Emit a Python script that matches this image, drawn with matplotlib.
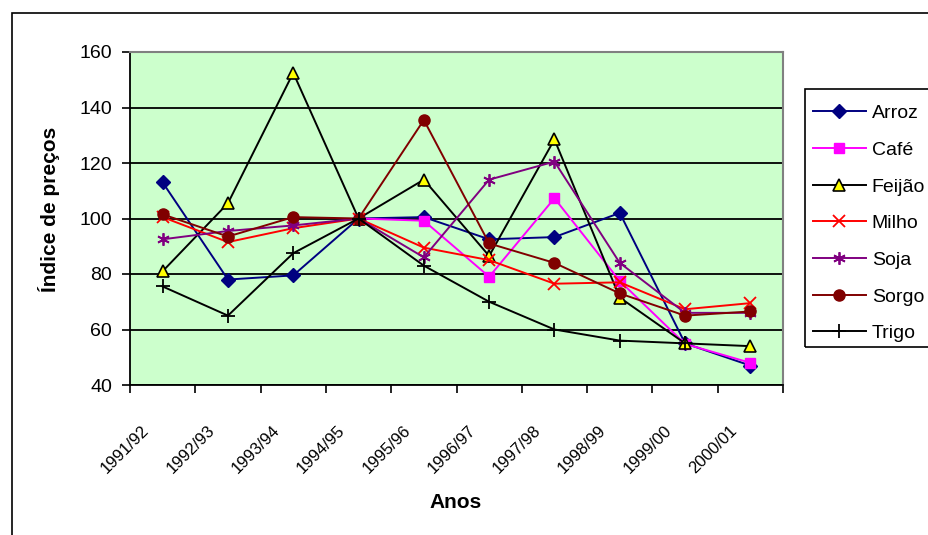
import numpy as np
import matplotlib
matplotlib.use('Agg')
import matplotlib.pyplot as plt
from matplotlib.patches import Rectangle
from matplotlib.transforms import ScaledTranslation

plt.rcParams['font.family'] = ['Liberation Sans', 'DejaVu Sans']

# safras
anos = ['1991/92', '1992/93', '1993/94', '1994/95', '1995/96',
        '1996/97', '1997/98', '1998/99', '1999/00', '2000/01']

# indices de precos (1994/95 = 100), None = sem dado
arroz = [113, 78, 79.5, 100, 100.5, 92.5, 93.3, 102, 55, 47]
cafe = [None, None, None, 100, 99.2, 79, 107.3, 77.5, 54.8, 48]
feijao = [81, 105.5, 152.5, 100, 114, 86.5, 128.5, 71.5, 55, 54]
milho = [100.5, 91.5, 96.5, 100, 89.5, 85, 76.5, 77, 67.3, 69.5]
soja = [92.5, 95.5, 97.5, 100, 86, 114, 120.5, 84, 66, 66]
sorgo = [101.5, 93.5, 100.5, 100, 135.5, 91, 84, 73, 65, 66.5]
trigo = [75.5, 65, 87.5, 100, 83, 70, 60, 56, 55, None]

series = [
    ('Arroz', arroz, dict(color='#000080', marker='D', ms=7, mfc='#000080', mec='#000080')),
    ('Café', cafe, dict(color='#FF00FF', marker='s', ms=7.5, mfc='#FF00FF', mec='#FF00FF')),
    ('Feijão', feijao, dict(color='black', marker='^', ms=9, mfc='#FFFF00', mec='black', mew=1.2)),
    ('Milho', milho, dict(color='#FF0000', marker='x', ms=8, mec='#FF0000', mew=1.3)),
    ('Soja', soja, dict(color='#800080', marker=(6, 2, 0), ms=9, mec='#800080', mew=1.3)),
    ('Sorgo', sorgo, dict(color='#800000', marker='o', ms=8, mfc='#800000', mec='#800000')),
    ('Trigo', trigo, dict(color='black', marker='+', ms=10, mec='black', mew=1.3)),
]

W, H = 929, 535
fig = plt.figure(figsize=(W / 100, H / 100), dpi=100)
fig.patch.set_facecolor('white')

# moldura externa do grafico
fig.add_artist(Rectangle((12 / W, -0.1), 1.2, 1 - 13 / H + 0.1, transform=fig.transFigure,
                         fill=False, edgecolor='black', lw=1.2))

ax = fig.add_axes([130 / W, 1 - 385 / H, (783 - 130) / W, (385 - 52) / H])
ax.set_facecolor('#CCFFCC')

x = np.arange(len(anos)) + 0.5
for nome, vals, st in series:
    y = np.array([np.nan if v is None else v for v in vals], dtype=float)
    ax.plot(x, y, lw=1.4, label=nome, **st)

ax.set_xlim(0, len(anos))
ax.set_ylim(40, 160)
ax.set_yticks(np.arange(40, 161, 20))
ax.grid(axis='y', color='black', lw=1.3)
ax.set_axisbelow(True)

for s in ['top', 'right']:
    ax.spines[s].set_color('#808080')
    ax.spines[s].set_linewidth(1.5)
for s in ['left', 'bottom']:
    ax.spines[s].set_color('black')
    ax.spines[s].set_linewidth(1.3)

ax.tick_params(axis='y', direction='out', length=5.8, width=1.2, pad=7, labelsize=14)
ax.set_xticks(np.arange(len(anos) + 1), minor=True)
ax.tick_params(axis='x', which='minor', direction='out', length=5.8, width=1.2)
ax.set_xticks(x)
ax.set_xticklabels(anos, fontsize=12)
ax.tick_params(axis='x', which='major', length=0, pad=31)
off = ScaledTranslation(-0.16, 0, fig.dpi_scale_trans)
for lab in ax.get_xticklabels():
    lab.set_rotation(45)
    lab.set_ha('right')
    lab.set_va('center')
    lab.set_rotation_mode('anchor')
    lab.set_transform(lab.get_transform() + off)

fig.text(49 / W, 1 - 209 / H, 'Índice de preços', rotation=90, ha='center', va='center',
         fontsize=15, fontweight='bold')
fig.text(456 / W, 1 - 503 / H, 'Anos', ha='center', va='center',
         fontsize=15, fontweight='bold')

# caixa da legenda (passa da borda direita)
fig.add_artist(Rectangle((805 / W, 1 - 347 / H), 0.3, (347 - 89) / H, transform=fig.transFigure,
                         fill=False, edgecolor='black', lw=1.2))
leg = fig.legend(loc='upper left', bbox_to_anchor=(797 / W, 1 - 89 / H), borderaxespad=0,
                 fontsize=14, frameon=False,
                 handlelength=2.75, handletextpad=0.3, labelspacing=0.98, borderpad=0.8)

fig.savefig('out.png', dpi=100)
